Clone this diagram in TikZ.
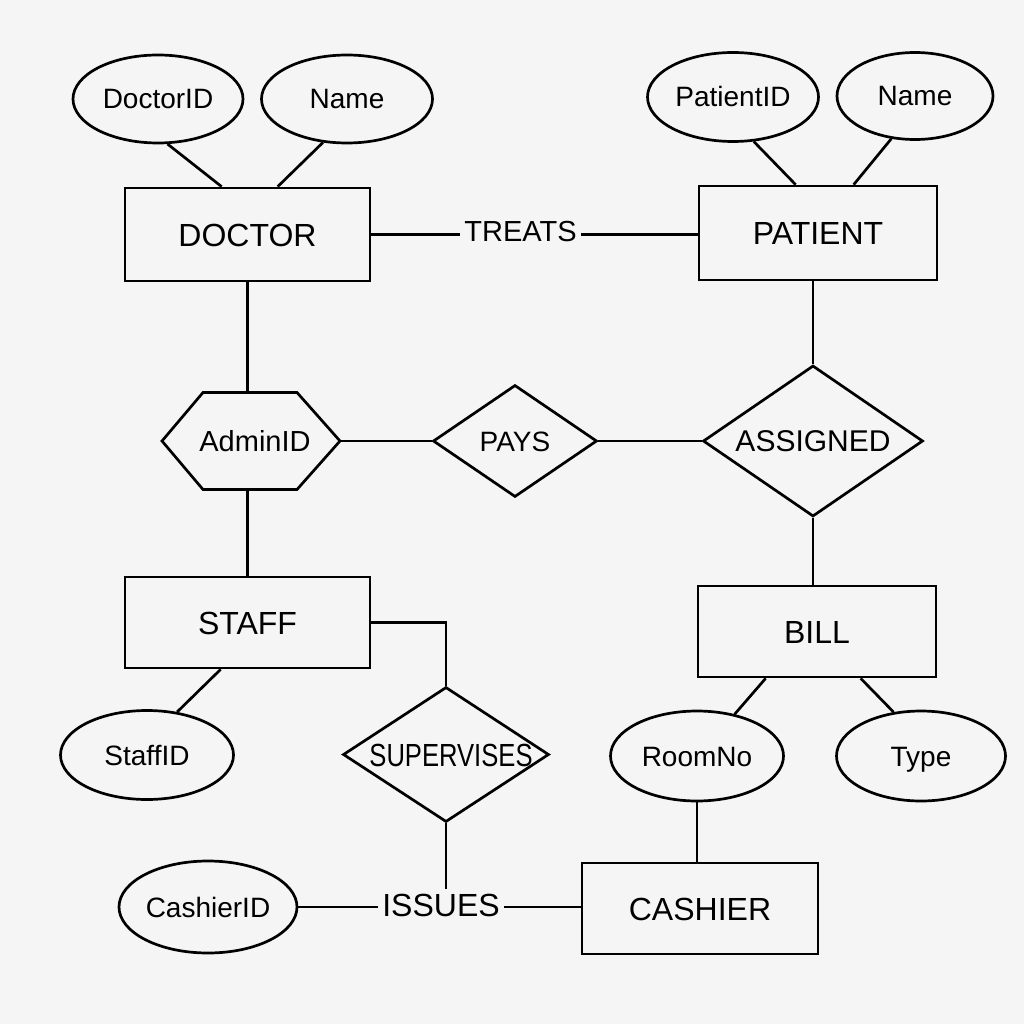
\documentclass[tikz,border=0pt]{standalone}
\usepackage{fontspec}
\setmainfont{Liberation Sans}
\usetikzlibrary{shapes.geometric}
\definecolor{bgc}{RGB}{245,245,245}
\begin{document}
\begin{tikzpicture}[x=1pt,y=-1pt,line width=2.7pt,
  entity/.style={draw,rectangle,inner sep=0pt,font=\fontsize{32}{36}\selectfont,text height=23pt,text depth=0pt},
  attr/.style={draw,ellipse,inner sep=0pt,font=\fontsize{28}{32}\selectfont,text height=20pt,text depth=0pt},
  rel/.style={draw,diamond,inner sep=0pt,font=\fontsize{29}{32}\selectfont,text height=21pt,text depth=0pt},
  label/.style={inner sep=3pt,text height=22pt,text depth=0pt},
  conn/.style={draw}]
\fill[bgc] (0,0) rectangle (1024,1024);
\useasboundingbox (0,0) rectangle (1024,1024);

% entities
\node[entity,minimum width=245pt,minimum height=93pt] (doctor) at (247.5,234.5) {DOCTOR};
\node[entity,minimum width=238pt,minimum height=94pt] (patient) at (818,233) {PATIENT};
\node[entity,minimum width=245pt,minimum height=91pt] (staff) at (247.5,622.5) {STAFF};
\node[entity,minimum width=238pt,minimum height=91pt] (bill) at (817,631.5) {BILL};
\node[entity,minimum width=236pt,minimum height=91pt] (cashier) at (700,908.5) {CASHIER};

% attributes
\node[attr,minimum width=170pt,minimum height=88pt] (doctorid) at (158,99) {DoctorID};
\node[attr,minimum width=171pt,minimum height=88pt] (dname) at (347,99) {Name};
\node[attr,minimum width=171pt,minimum height=89pt] (patientid) at (733,97) {PatientID};
\node[attr,minimum width=156pt,minimum height=87pt] (pname) at (915,96) {Name};
\node[attr,minimum width=173pt,minimum height=89pt] (staffid) at (147,755) {StaffID};
\node[attr,minimum width=173pt,minimum height=90pt] (roomno) at (697,756) {RoomNo};
\node[attr,minimum width=169pt,minimum height=90pt] (type) at (921,756) {Type};
\node[attr,minimum width=178pt,minimum height=92pt] (cashierid) at (208,907) {CashierID};

% hexagon
\node[rectangle,inner sep=0pt,outer sep=0pt,minimum width=178pt,minimum height=97pt,
  font=\fontsize{29}{32}\selectfont,text height=21pt,text depth=0pt] (admin) at (251,441) {\makebox[0pt]{\hspace*{8pt}AdminID}};
\draw (admin.west) -- ([xshift=41pt]admin.north west) -- ([xshift=-43pt]admin.north east)
  -- (admin.east) -- ([xshift=-43pt]admin.south east) -- ([xshift=41pt]admin.south west) -- cycle;

% relationships
\node[rel,minimum width=164pt,minimum height=112pt,font=\fontsize{28}{32}\selectfont] (pays) at (515,441) {\makebox[0pt]{PAYS}};
\node[rel,minimum width=220pt,minimum height=151pt,font=\fontsize{30}{32}\selectfont] (assigned) at (813,441) {\makebox[0pt]{ASSIGNED}};
\node[rel,minimum width=206pt,minimum height=135pt,font=\fontsize{32}{36}\selectfont,text height=23pt] (supervises) at (446,754.5) {\makebox[0pt]{\hspace*{10pt}\scalebox{0.8}[1]{SUPERVISES}}};

% relationship labels on lines
\node[label,font=\fontsize{29}{32}\selectfont,text height=21pt] (treats) at (520.5,231) {TREATS};
\node[label,font=\fontsize{32}{36}\selectfont,text height=23pt] (issues) at (441,905) {ISSUES};

% connectors
\draw[conn] (doctorid.-78) -- ([xshift=98pt]doctor.north west);
\draw[conn] (dname.241) -- ([xshift=154pt]doctor.north west);
\draw[conn] (patientid.-65) -- ([xshift=98pt]patient.north west);
\draw[conn] (pname.241) -- ([xshift=156pt]patient.north west);
\draw[conn] (doctor.east) -- (doctor.east -| treats.west);
\draw[conn] (treats.east |- doctor.east) -- (patient.west |- doctor.east);
\draw[conn] (doctor.south) -- (doctor.south |- admin.north);
\draw[conn] (admin.east) -- (pays.west);
\draw[conn] (pays.east) -- (assigned.west);
\draw[conn] (assigned.north |- patient.south) -- (assigned.north);
\draw[conn] (assigned.south) -- (assigned.south |- bill.north);
\draw[conn] (staff.north |- admin.south) -- (staff.north);
\draw[conn] (staff.east) -| (supervises.north);
\draw[conn] (staffid.55) -- ([xshift=97pt]staff.south west);
\draw[conn] (supervises.south) -- (supervises.south |- issues.north);
\draw[conn] (cashierid.east) -- (cashierid.east -| issues.west);
\draw[conn] (issues.east |- cashierid.east) -- (cashierid.east -| cashier.west);
\draw[conn] (roomno.48) -- ([xshift=69pt]bill.south west);
\draw[conn] (type.122) -- ([xshift=164pt]bill.south west);
\draw[conn] (roomno.south) -- (roomno.south |- cashier.north);
\end{tikzpicture}
\end{document}
